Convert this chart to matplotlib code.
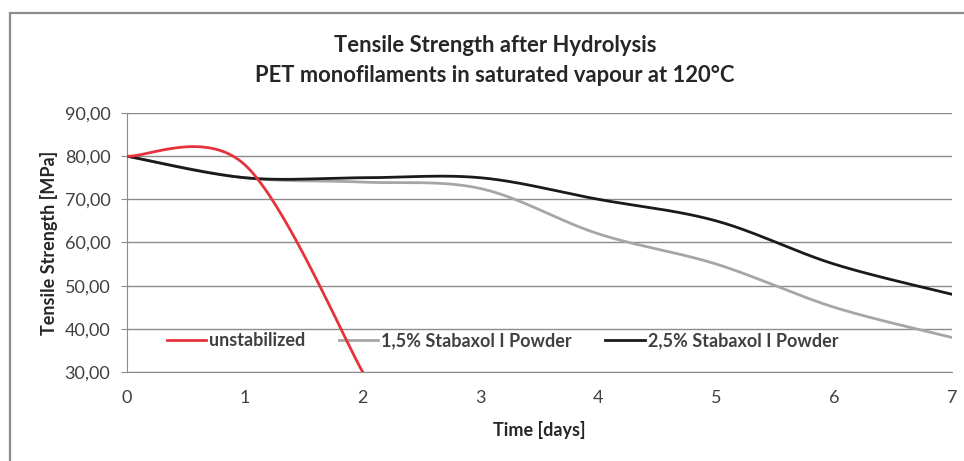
import matplotlib
matplotlib.use("Agg")
import matplotlib.pyplot as plt
import matplotlib.patches as patches
import numpy as np

# data (values at whole days)
days = [0, 1, 2, 3, 4, 5, 6, 7]
unstab_days = [0, 1, 2]
unstabilized = [80, 78, 30]
stab_15 = [80, 75, 74, 72.5, 62, 55, 45, 38]
stab_25 = [80, 75, 75, 75, 70, 65, 55, 48]
yticks = [30, 40, 50, 60, 70, 80, 90]

plt.rcParams['font.family'] = ['Lato', 'DejaVu Sans']


def smooth(x, y, n=40):
	""" Excel-like smoothed line (Bezier through points, Catmull-Rom tangents). """
	p = np.column_stack([x, y]).astype(float)
	pts = np.vstack([p[0], p, p[-1]])
	out = []
	for i in range(1, len(pts) - 2):
		p0, p1, p2, p3 = pts[i-1], pts[i], pts[i+1], pts[i+2]
		c1 = p1 + (p2 - p0) / 6
		c2 = p2 - (p3 - p1) / 6
		t = np.linspace(0, 1, n)[:, None]
		seg = (1-t)**3*p1 + 3*(1-t)**2*t*c1 + 3*(1-t)*t**2*c2 + t**3*p2
		out.append(seg if i == 1 else seg[1:])
	out = np.vstack(out)
	return out[:, 0], out[:, 1]


fig = plt.figure(figsize=(9.64, 4.61), dpi=100)
ax = fig.add_axes([127/964, 1-372/461, 825/964, 259/461])

# outer chart frame (cut off at right and bottom)
fig.patches.append(patches.Rectangle((10/964, -0.1), 2, 1.1 - 13/461, transform=fig.transFigure,
									 fill=False, edgecolor='#8c8c8c', lw=1.6))

xs, ys = smooth(unstab_days, unstabilized)
ax.plot(xs, ys, color='#e5323d', lw=2.0, label='unstabilized', zorder=4)
xs, ys = smooth(days, stab_15)
ax.plot(xs, ys, color='#a6a6a6', lw=2.0, label='1,5% Stabaxol I Powder', zorder=3)
xs, ys = smooth(days, stab_25)
ax.plot(xs, ys, color='#1a1a1a', lw=2.0, label='2,5% Stabaxol I Powder', zorder=3)

ax.set_xlim(0, 7)
ax.set_ylim(30, 90)
ax.set_yticks(yticks)
ax.set_yticklabels(['%d,00' % v for v in yticks])
ax.set_xticks(days)
ax.grid(axis='y', color='#8c8c8c', lw=1.0)
ax.set_axisbelow(True)
for s in ['top', 'right']:
	ax.spines[s].set_visible(False)
ax.spines['left'].set_color('#8c8c8c')
ax.spines['bottom'].set_color('#8c8c8c')
ax.tick_params(axis='y', length=4.5, color='#8c8c8c', labelsize=13, labelcolor='#404040', pad=7.5)
ax.tick_params(axis='x', length=0, labelsize=13, labelcolor='#404040', pad=13)

ax.set_xlabel('Time [days]', fontsize=13, fontweight='bold', color='#262626', labelpad=11)
ax.set_ylabel('Tensile Strength [MPa]', fontsize=13, fontweight='bold', color='#262626', labelpad=5)

fig.text(495/964, 1-45/461, 'Tensile Strength after Hydrolysis', ha='center', va='center',
		 fontsize=15.8, fontweight='bold', color='#262626')
fig.text(495/964, 1-75/461, 'PET monofilaments in saturated vapour at 120°C', ha='center', va='center',
		 fontsize=15.8, fontweight='bold', color='#262626')

leg = ax.legend(loc='center', bbox_to_anchor=(0.455, 0.12), ncol=3, frameon=False,
				handlelength=2.2, handletextpad=0.15, columnspacing=1.85, borderpad=0.2,
				prop={'weight': 'bold', 'size': 13})
leg.set_zorder(2)
for t in leg.get_texts():
	t.set_color('#404040')

fig.savefig('out.png', dpi=100)
